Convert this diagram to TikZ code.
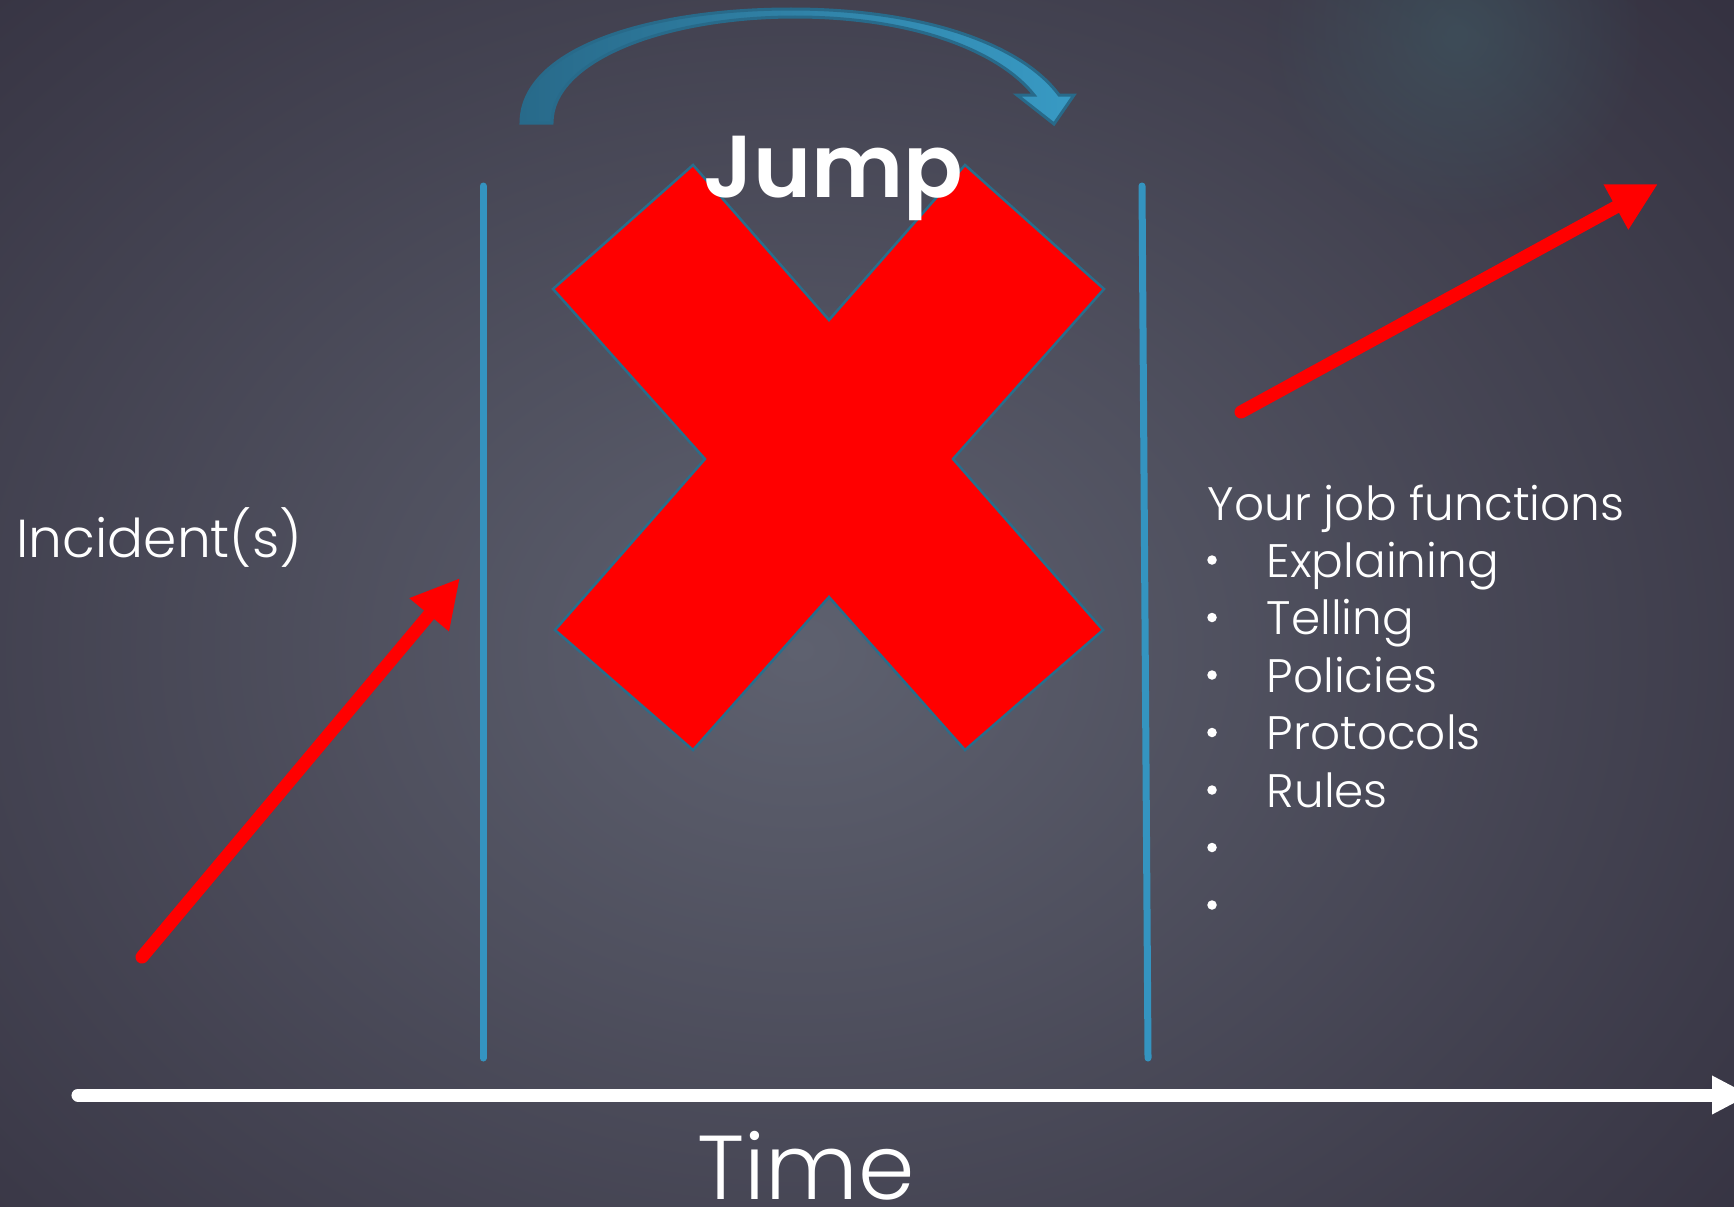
\documentclass[tikz,border=0pt]{standalone}
\usepackage{fontspec}
\setmainfont{Poppins}[UprightFont=* Light, BoldFont=* SemiBold]
\usetikzlibrary{arrows.meta,fadings}
\definecolor{slateinner}{RGB}{94,97,111}
\definecolor{slateouter}{RGB}{52,49,64}
\definecolor{glowteal}{RGB}{62,88,98}
\definecolor{wallblue}{RGB}{52,148,192}
\definecolor{jumpdark}{RGB}{40,106,138}
\definecolor{jumplight}{RGB}{56,154,196}
\definecolor{xedge}{RGB}{40,110,140}
\tikzfading[name=glowfade, inner color=transparent!0, outer color=transparent!100]

\begin{document}
\begin{tikzpicture}[
  x=0.01cm, y=-0.01cm,
  label/.style={text=white, inner sep=0pt, anchor=base west},
  duty/.style={label, font=\fontsize{13.35}{16}\selectfont},
  dot/.style={circle, fill=white, inner sep=0pt, minimum size=0.095cm},
  wall/.style={draw=wallblue, line width=0.07cm, line cap=round},
  trend/.style={draw=red, line width=0.13cm, line cap=round,
                -{Triangle[length=0.48cm,width=0.48cm]}}
]
\useasboundingbox (0,0) rectangle (1734,1206);
% background
\fill[slateouter] (0,0) rectangle (1734,1206);
\shade[inner color=slateinner, outer color=slateouter] (-450,-350) rectangle (2050,1650);
\fill[glowteal, path fading=glowfade, opacity=0.6] (1457,35) circle (190);

% walls
\coordinate (wl top) at (483,186);
\coordinate (wl bot) at (483,1058);
\coordinate (wr top) at (1142,186);
\coordinate (wr bot) at (1148,1058);
\draw[wall] (wl top) -- (wl bot);
\draw[wall] (wr top) -- (wr bot);

% jump arrow
\shade[draw=jumpdark, line width=0.03cm, left color=jumpdark, right color=jumplight]
  (521,123) .. controls (521,48) and (650,9) .. (791,9)
  .. controls (925,9) and (1022,45) .. (1059,95)
  -- (1074,95) -- (1054,124) -- (1017,95) -- (1034,95)
  .. controls (1000,52) and (915,17) .. (795,17)
  .. controls (665,17) and (552,60) .. (552,123) -- cycle;

% red cross
\fill[red, draw=xedge, line width=0.025cm]
  (693,165) -- (829,320) -- (965,165) -- (1104,289) -- (953,459)
  -- (1103,630) -- (965,750) -- (829,597) -- (693,750) -- (555,630)
  -- (705,459) -- (553,289) -- cycle;

\node[text=white, inner sep=0pt, anchor=base] (jump) at (833,197)
  {\fontsize{25}{30}\selectfont\bfseries Jump};

% trends
\coordinate (inc tail) at (142,957);
\coordinate (inc tip) at (460,578);
\coordinate (job tail) at (1241,412);
\coordinate (job tip) at (1658,184);
\draw[trend] (inc tail) -- (inc tip);
\draw[trend] (job tail) -- (job tip);

% time axis
\coordinate (t start) at (78,1095);
\coordinate (t end) at (1750,1095);
\draw[white, line width=0.13cm, line cap=round,
      -{Triangle[length=0.38cm,width=0.36cm]}] (t start) -- (t end);
\node[label, anchor=base] (time) at (806,1199) {\fontsize{25.8}{30}\selectfont Time};

% labels
\node[label] (incident) at (16,557) {\fontsize{15.2}{18}\selectfont Incident(s)};
\node[duty] (jobs) at (1207,520) {Your job functions};
\node[duty] (explain) at (1266,577) {Explaining};
\node[duty] (tell) at (1266,634.5) {Telling};
\node[duty] (policy) at (1266,692) {Policies};
\node[duty] (proto) at (1266,749.5) {Protocols};
\node[duty] (rules) at (1266,807) {Rules};
\node[dot] (b1) at (1212,560) {};
\node[dot] (b2) at (1212,617.5) {};
\node[dot] (b3) at (1212,675) {};
\node[dot] (b4) at (1212,732.5) {};
\node[dot] (b5) at (1212,790) {};
\node[dot] (b6) at (1212,847.5) {};
\node[dot] (b7) at (1212,905) {};
\end{tikzpicture}
\end{document}
